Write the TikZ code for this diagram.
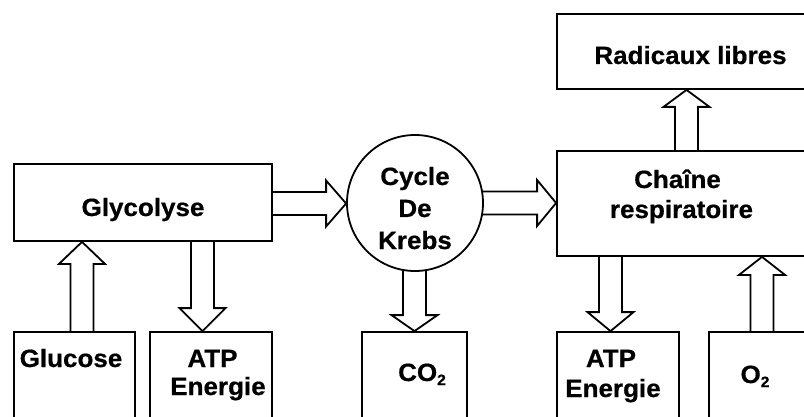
\documentclass[tikz,border=0pt]{standalone}
\usepackage{fontspec}
\setmainfont{Liberation Sans}[FakeStretch=1.04, BoldFeatures={FakeBold=0.6}]
\usetikzlibrary{calc}
\pgfdeclarelayer{background}
\pgfsetlayers{background,main}
\newcommand\subtwo{\raisebox{-4pt}{\fontsize{15}{15}\selectfont 2}}
\tikzset{
  box/.style={draw, line width=1.8pt, fill=white, inner sep=0pt, rectangle},
  ring/.style={draw, line width=1.8pt, fill=white, inner sep=0pt, circle, minimum size=136pt},
  txt/.style={font=\fontsize{25}{30}\selectfont\bfseries, inner sep=0pt, anchor=base},
  blk/.style={draw, line width=1.8pt, fill=white, line join=miter},
}
% vertical block arrows: #1 x, #2 from, #3 to, #4 head length
\newcommand\blkup[4]{%
  \draw[blk] let \p1=(#2), \p2=(#3) in
   (#1-11.5pt,\y1-3pt) -- (#1-11.5pt,\y2-#4) -- (#1-23pt,\y2-#4) -- (#1pt,\y2)
   -- (#1+23pt,\y2-#4) -- (#1+11.5pt,\y2-#4) -- (#1+11.5pt,\y1-3pt) -- cycle;}
\newcommand\blkdown[4]{%
  \draw[blk] let \p1=(#2), \p2=(#3) in
   (#1-11.5pt,\y1+3pt) -- (#1-11.5pt,\y2+#4) -- (#1-23pt,\y2+#4) -- (#1pt,\y2)
   -- (#1+23pt,\y2+#4) -- (#1+11.5pt,\y2+#4) -- (#1+11.5pt,\y1+3pt) -- cycle;}
% horizontal: #1 y (canvas, negative), #2 from, #3 to, #4 head length
\newcommand\blkright[4]{%
  \draw[blk] let \p1=(#2), \p2=(#3) in
   (\x1-3pt,#1+11.5pt) -- (\x2-#4,#1+11.5pt) -- (\x2-#4,#1+23pt) -- (\x2,#1pt)
   -- (\x2-#4,#1-23pt) -- (\x2-#4,#1-11.5pt) -- (\x1-3pt,#1-11.5pt) -- cycle;}
\begin{document}
\begin{tikzpicture}[x=1pt,y=-1pt]
\useasboundingbox (0,0) rectangle (804,417);
\begin{scope}
\clip (0,0) rectangle (804,417);
\node[box, minimum width=258pt, minimum height=77pt] (glyco) at (143,202.5) {};
\node[box, minimum width=121pt, minimum height=98pt] (glucose) at (74.5,381) {};
\node[box, minimum width=122pt, minimum height=98pt] (atp1) at (211,381) {};
\node[ring] (krebs) at (415,203) {};
\node[box, minimum width=105pt, minimum height=98pt] (co2) at (414.5,381) {};
\node[box, minimum width=263pt, minimum height=105pt] (chaine) at (688.5,203.5) {};
\node[box, minimum width=263pt, minimum height=75pt] (radic) at (688.5,51.5) {};
\node[box, minimum width=122pt, minimum height=98pt] (atp2) at (618,381) {};
\node[box, minimum width=111pt, minimum height=98pt] (o2) at (764.5,381) {};
\end{scope}

\node[txt] (t1) at (143,216) {Glycolyse};
\node[txt] (t2) at (71,367) {Glucose};
\node[txt] (t3) at (212.5,367) {ATP};
\node[txt] (t4) at (218,395) {Energie};
\node[txt] (t5) at (415,185) {Cycle};
\node[txt] (t6) at (415,217) {De};
\node[txt] (t7) at (415,249) {Krebs};
\node[txt] (t8) at (422,381) {CO\subtwo};
\node[txt] (t9) at (611,367) {ATP};
\node[txt] (t10) at (613,397) {Energie};
\node[txt] (t11) at (755,383) {O\subtwo};
\node[txt] (t12) at (677.5,188) {Chaîne};
\node[txt] (t13) at (681.5,218) {respiratoire};
\node[txt] (t14) at (690.5,64) {Radicaux libres};

\begin{pgfonlayer}{background}
\blkup{82}{glucose.north}{glyco.south}{22pt}
\blkdown{202.5}{glyco.south}{atp1.north}{23pt}
\blkright{-203.5}{glyco.east}{krebs.west}{20pt}
\blkdown{414.5}{krebs.south}{co2.north}{16pt}
\blkright{-203}{krebs.east}{chaine.west}{19pt}
\blkup{686.5}{chaine.north}{radic.south}{17pt}
\blkdown{610.5}{chaine.south}{atp2.north}{19pt}
\blkup{762}{o2.north}{chaine.south}{18pt}
\end{pgfonlayer}
\end{tikzpicture}
\end{document}
